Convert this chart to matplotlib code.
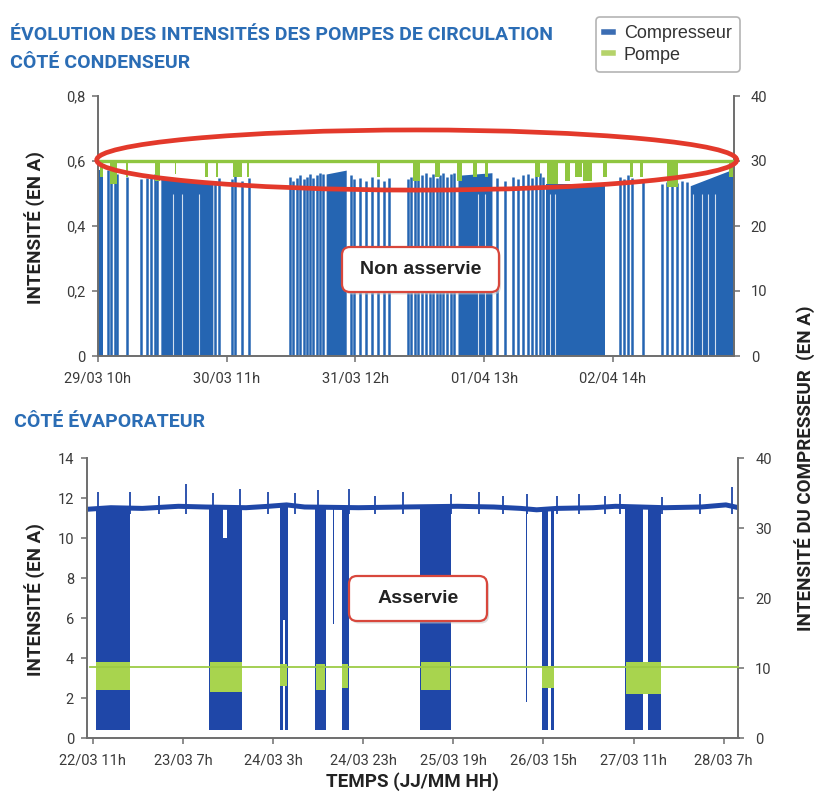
import matplotlib.pyplot as plt
from matplotlib import font_manager
from matplotlib.lines import Line2D
from matplotlib.patches import Ellipse, FancyBboxPatch

# ---------------------------------------------------------------------------
# Côté condenseur : heures depuis le 29/03 10h
# ---------------------------------------------------------------------------
cond_xticks = [0, 25, 50, 75, 100]
cond_xlabels = ["29/03 10h", "30/03 11h", "31/03 12h", "01/04 13h", "02/04 14h"]
cond_xmax = 123.5
cond_yticks = [0, 0.2, 0.4, 0.6, 0.8]
cond_ylabels = ["0", "0,2", "0,4", "0,6", "0,8"]
cond_rticks = [0, 10, 20, 30, 40]

# compresseur : périodes de marche continue (A, axe de droite)
cond_run_start = [0.0, 12.2, 44.3, 69.9, 87.0, 115.0]
cond_run_end = [1.0, 22.3, 48.2, 76.5, 98.5, 123.5]
cond_run_amp_start = [28.6, 27.4, 28.0, 27.8, 26.4, 26.2]
cond_run_amp_end = [28.6, 26.8, 28.6, 28.2, 26.4, 28.8]

# compresseur : démarrages courts
cond_pulse_h = [
    1.9, 2.5, 3.3, 3.7, 5.6, 8.4, 9.5, 10.3, 11.1, 11.5,
    22.7, 23.5, 26.0, 26.6, 28.0, 29.3,
    37.3, 37.9, 38.7, 39.2, 40.0, 40.6, 41.2, 41.8, 42.5, 43.1, 43.7,
    49.1, 49.7, 50.9, 52.1, 53.2, 54.4, 55.5, 56.5,
    60.2, 60.8, 61.6, 62.1, 62.9, 63.7, 64.5, 65.1, 65.8, 66.4, 67.0, 67.8, 68.6, 69.1,
    77.5, 79.0, 80.6, 81.6, 82.5, 83.5, 84.3, 85.1, 85.8, 86.4,
    101.4, 102.2, 102.9, 103.7, 105.8,
    109.5, 110.5, 111.5, 112.4, 113.4, 114.4,
]
cond_pulse_amp = [
    28.6, 28.2, 28.8, 28.0, 27.6, 27.2, 27.4, 27.8, 28.0, 28.4,
    27.0, 27.4, 27.2, 27.8, 27.0, 27.4,
    27.6, 27.0, 27.4, 27.8, 27.2, 27.6, 28.0, 27.4, 27.8, 28.2, 28.0,
    27.8, 27.2, 27.4, 27.0, 27.6, 27.2, 27.0, 27.4,
    27.2, 27.6, 28.0, 27.4, 27.8, 28.2, 27.6, 28.0, 27.4, 27.8, 28.2, 27.6, 28.0, 28.2,
    27.4, 27.0, 27.6, 27.2, 27.8, 28.0, 27.4, 27.8, 28.2, 27.6,
    27.6, 27.2, 27.8, 27.4, 27.0,
    26.4, 26.8, 27.2, 26.6, 27.0, 26.8,
]
# arrêts brefs à l'intérieur des périodes de marche
cond_gap_h = [14.6, 16.3, 19.6, 73.8, 75.2, 87.8, 88.7, 115.5, 117.3, 118.4, 119.8]

# pompe (A, axe de gauche) : niveau et creux
cond_pump_level = 0.6
cond_dip_start = [0.4, 2.3, 5.5, 11.1, 14.9, 20.8, 23.0, 26.2, 29.0, 54.2, 61.2, 65.4,
                  69.7, 72.8, 75.2, 84.9, 87.2, 90.7, 92.6, 94.2, 98.1, 103.3, 105.3,
                  110.5, 122.5]
cond_dip_end = [1.0, 3.7, 5.8, 12.0, 15.2, 21.4, 23.3, 28.0, 29.3, 54.8, 62.5, 66.4,
                70.7, 73.6, 75.7, 85.8, 89.3, 91.7, 94.0, 95.9, 98.8, 103.9, 105.8,
                112.6, 123.3]
cond_dip_low = [0.55, 0.53, 0.55, 0.54, 0.56, 0.55, 0.55, 0.55, 0.55, 0.55, 0.54, 0.55,
                0.54, 0.55, 0.55, 0.55, 0.53, 0.54, 0.55, 0.54, 0.55, 0.55, 0.55,
                0.52, 0.55]

# ---------------------------------------------------------------------------
# Côté évaporateur : heures depuis le 22/03 11h
# ---------------------------------------------------------------------------
evap_xticks = [0, 20, 40, 60, 80, 100, 120, 140]
evap_xlabels = ["22/03 11h", "23/03 7h", "24/03 3h", "24/03 23h",
                "25/03 19h", "26/03 15h", "27/03 11h", "28/03 7h"]
evap_xmin, evap_xmax = -1.4, 143.3
evap_yticks = [0, 2, 4, 6, 8, 10, 12, 14]
evap_rticks = [0, 10, 20, 30, 40]

# compresseur en marche continue (A, axe de droite)
evap_level_h = [-0.7, 4, 11, 19, 25, 34, 39, 43, 47, 59, 69, 81, 89, 95, 98.5,
                103, 111, 116, 127, 135, 140.5, 143.3]
evap_level_amp = [32.7, 32.9, 32.8, 33.1, 33.0, 32.9, 33.1, 33.3, 33.0, 32.9, 33.0,
                  33.1, 33.0, 32.8, 32.6, 32.8, 32.9, 33.1, 32.9, 33.0, 33.3, 32.9]
evap_spike_h = [1.1, 8.3, 14.6, 20.6, 26.7, 32.6, 38.9, 44.8, 50.0, 56.9, 62.6, 68.8,
                79.6, 85.6, 91.1, 96.3, 103.0, 107.8, 113.7, 117.0, 126.3, 134.8, 141.9]
evap_spike_amp = [35.2, 35.2, 34.6, 36.3, 35.0, 35.6, 35.2, 35.0, 35.4, 35.6, 34.6, 35.2,
                  34.9, 35.2, 34.6, 34.9, 34.6, 34.9, 34.6, 34.9, 34.4, 34.9, 35.8]

# compresseur en fonctionnement cyclé (enveloppe haute / basse)
evap_cycle_start = [0.6, 25.8, 28.8, 29.8, 41.5, 42.1, 42.6, 49.3, 53.2, 55.2,
                    72.6, 96.1, 99.6, 101.7, 118.2, 123.3]
evap_cycle_end = [8.3, 28.8, 29.8, 33.0, 42.1, 42.6, 43.3, 51.7, 53.5, 56.9,
                  79.5, 96.3, 101.1, 102.4, 122.2, 126.2]
evap_cycle_high = [32.8, 33.0, 28.6, 33.0, 33.3, 33.3, 33.3, 33.3, 33.0, 33.0,
                   33.0, 32.6, 32.4, 32.6, 33.2, 33.0]
evap_cycle_low = [1.1, 1.1, 1.1, 1.1, 1.1, 16.9, 1.1, 1.1, 16.3, 1.1,
                  1.1, 5.1, 1.1, 1.1, 1.1, 1.1]

# pompe (A, axe de gauche)
evap_pump_level = 3.55
evap_band_start = [0.6, 25.9, 41.6, 49.5, 55.4, 72.8, 99.7, 118.4]
evap_band_end = [8.3, 33.0, 43.1, 51.5, 56.7, 79.3, 102.3, 126.0]
evap_band_low = [2.4, 2.3, 2.6, 2.4, 2.5, 2.4, 2.5, 2.2]
evap_band_high = [3.8, 3.8, 3.7, 3.7, 3.7, 3.8, 3.6, 3.8]

# ---------------------------------------------------------------------------
_installed = {f.name for f in font_manager.fontManager.ttflist}
NARROW = "Liberation Sans Narrow" if "Liberation Sans Narrow" in _installed else "Roboto"
PLAIN = "Liberation Sans"

BLUE_TITLE = "#2b6db5"
BLUE_COND = "#2565b2"
BLUE_EVAP = "#1f47a8"
GREEN = "#8fc640"
GREEN_BAND = "#a8d44e"
RED = "#e3392b"
AXIS_GREY = "#6e6e6e"
TICK_TEXT = "#3a3a3a"
DARK = "#222222"

W, H = 817, 795
fig = plt.figure(figsize=(W / 100, H / 100), dpi=100)


def _px_axes(x0, y0, x1, y1):
    return fig.add_axes([x0 / W, 1 - y1 / H, (x1 - x0) / W, (y1 - y0) / H])


def _style(ax, axr, xticks, xlabels, yticks, ylabels, rticks):
    for side in ("top", "right"):
        ax.spines[side].set_visible(False)
    for side in ("top", "left", "bottom"):
        axr.spines[side].set_visible(False)
    for sp in (ax.spines["left"], ax.spines["bottom"], axr.spines["right"]):
        sp.set_color(AXIS_GREY)
        sp.set_linewidth(1.4)
    ax.set_xticks(xticks, xlabels)
    ax.set_yticks(yticks, ylabels)
    axr.set_yticks(rticks, [str(t) for t in rticks])
    for a in (ax, axr):
        a.tick_params(direction="out", length=4, width=1.1, color=AXIS_GREY,
                      labelcolor=TICK_TEXT, labelsize=10.5)
        for lab in a.get_xticklabels() + a.get_yticklabels():
            lab.set_fontfamily(NARROW)
    ax.tick_params(axis="x", pad=7)
    ax.tick_params(axis="y", pad=5)
    axr.tick_params(axis="y", pad=8)
    # la pompe (axe gauche) passe par-dessus le compresseur
    ax.set_zorder(axr.get_zorder() + 1)
    ax.patch.set_visible(False)


# --- Côté condenseur --------------------------------------------------------
ax1 = _px_axes(98, 96, 734, 356)
ax1r = ax1.twinx()

for s, e, a0, a1 in zip(cond_run_start, cond_run_end, cond_run_amp_start, cond_run_amp_end):
    ax1r.fill_between([s, e], [0, 0], [a0, a1], color=BLUE_COND, lw=0)
ax1r.vlines(cond_pulse_h, 0, cond_pulse_amp, color=BLUE_COND, lw=1.8)
ax1r.vlines(cond_gap_h, 0, 25, color="white", lw=0.8, alpha=0.8)

ax1.plot([0, cond_xmax], [cond_pump_level, cond_pump_level], color=GREEN, lw=2.4,
         solid_capstyle="butt")
for s, e, lo in zip(cond_dip_start, cond_dip_end, cond_dip_low):
    ax1.fill_between([s, e], [lo, lo], [cond_pump_level] * 2, color=GREEN, lw=0)

ax1.set_xlim(0, cond_xmax)
ax1.set_ylim(0, 0.8)
ax1r.set_ylim(0, 40)
_style(ax1, ax1r, cond_xticks, cond_xlabels, cond_yticks, cond_ylabels, cond_rticks)

ax1.add_patch(Ellipse((61.9, 0.603), width=124.3, height=0.185, fill=False,
                      ec=RED, lw=3.4, clip_on=False, zorder=10))

# --- Côté évaporateur -------------------------------------------------------
ax2 = _px_axes(86.5, 458, 738.5, 738)
ax2r = ax2.twinx()

ax2r.bar(evap_cycle_start,
         [hi - lo for hi, lo in zip(evap_cycle_high, evap_cycle_low)],
         width=[e - s for s, e in zip(evap_cycle_start, evap_cycle_end)],
         bottom=evap_cycle_low, align="edge", color=BLUE_EVAP, lw=0)
ax2r.plot(evap_level_h, evap_level_amp, color=BLUE_EVAP, lw=3.6, solid_joinstyle="round")
ax2r.vlines(evap_spike_h, 32.0, evap_spike_amp, color=BLUE_EVAP, lw=1.3)

ax2.plot([evap_level_h[0], evap_xmax], [evap_pump_level] * 2, color="#9ccb45", lw=1.3)
ax2.bar(evap_band_start,
        [hi - lo for hi, lo in zip(evap_band_high, evap_band_low)],
        width=[e - s for s, e in zip(evap_band_start, evap_band_end)],
        bottom=evap_band_low, align="edge", color=GREEN_BAND, lw=0)

ax2.set_xlim(evap_xmin, evap_xmax)
ax2.set_ylim(0, 14)
ax2r.set_ylim(0, 40)
_style(ax2, ax2r, evap_xticks, evap_xlabels, evap_yticks,
       [str(t) for t in evap_yticks], evap_rticks)

# --- encadrés "Non asservie" / "Asservie" ------------------------------------
def _tag(x0, y0, x1, y1, text):
    bx, by, bw, bh = x0 / 100, (H - y1) / 100, (x1 - x0) / 100, (y1 - y0) / 100
    fig.patches.append(FancyBboxPatch((bx + 0.02, by - 0.025), bw, bh,
                                      boxstyle="round,pad=0,rounding_size=0.08",
                                      transform=fig.dpi_scale_trans, fc="#c8c8c8",
                                      ec="none", alpha=0.6, zorder=20))
    fig.patches.append(FancyBboxPatch((bx, by), bw, bh,
                                      boxstyle="round,pad=0,rounding_size=0.08",
                                      transform=fig.dpi_scale_trans, fc="white",
                                      ec="#d8473c", lw=1.6, zorder=21))
    fig.text((x0 + x1) / 2 / W, 1 - (y0 + y1) / 2 / H, text, ha="center", va="center",
             fontsize=14, fontweight="bold", family=PLAIN, color=DARK, zorder=22)


_tag(342, 247, 499, 292, "Non asservie")
_tag(349, 576, 487, 621, "Asservie")

# --- titres, libellés d'axes, légende ---------------------------------------
title_kw = dict(family=NARROW, fontweight="bold", color=BLUE_TITLE, fontsize=14.0,
                va="baseline", ha="left")
fig.text(10 / W, 1 - 40 / H, "ÉVOLUTION DES INTENSITÉS DES POMPES DE CIRCULATION", **title_kw)
fig.text(10 / W, 1 - 68 / H, "CÔTÉ CONDENSEUR", **title_kw)
fig.text(14 / W, 1 - 427 / H, "CÔTÉ ÉVAPORATEUR", **title_kw)

label_kw = dict(family=NARROW, fontweight="bold", color=DARK, fontsize=13.5,
                ha="center", va="center")
fig.text(35 / W, 1 - 228 / H, "INTENSITÉ (EN A)", rotation=90, **label_kw)
fig.text(35 / W, 1 - 600 / H, "INTENSITÉ (EN A)", rotation=90, **label_kw)
fig.text(805 / W, 1 - 468 / H, "INTENSITÉ DU COMPRESSEUR  (EN A)", rotation=90, **label_kw)
fig.text(412 / W, 1 - 782 / H, "TEMPS (JJ/MM HH)", **label_kw)

handles = [Line2D([], [], color="#3b6db3", lw=4), Line2D([], [], color="#b5d36a", lw=4)]
leg = fig.legend(handles, ["Compresseur", "Pompe"], loc="upper right",
                 bbox_to_anchor=(749 / W, 1 - 8 / H), handlelength=0.5, handletextpad=0.6,
                 borderpad=0.45, labelspacing=0.25, fancybox=True, framealpha=1,
                 prop={"family": PLAIN, "size": 13})
leg.get_frame().set_edgecolor("#b4b4b4")
leg.get_frame().set_linewidth(1.2)
for t in leg.get_texts():
    t.set_color("#333333")

fig.savefig("out.png", dpi=100)
